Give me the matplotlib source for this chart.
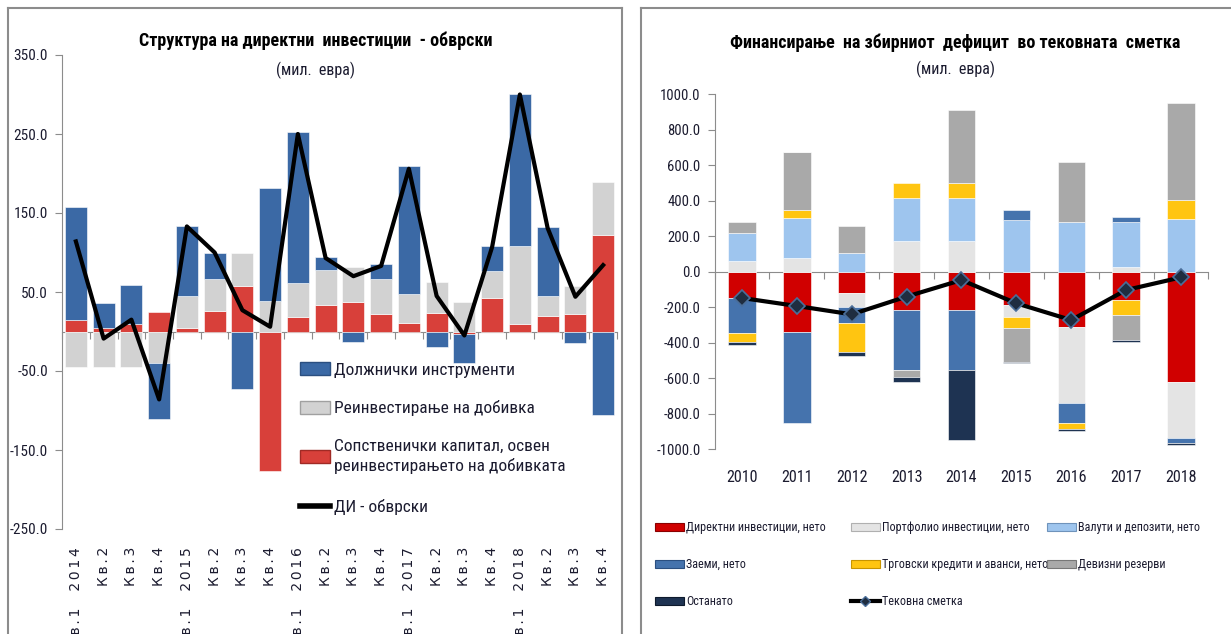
import matplotlib
matplotlib.use('Agg')
import matplotlib.pyplot as plt
import numpy as np
from matplotlib.lines import Line2D
from matplotlib.patches import Patch

plt.rcParams['font.family'] = ['Roboto Condensed', 'Roboto', 'DejaVu Sans']

# ---- left chart: FDI liabilities by quarter (mil. EUR)
quarters = ['Кв.1  2014', 'Кв.2', 'Кв.3', 'Кв.4',
            'Кв.1  2015', 'Кв.2', 'Кв.3', 'Кв.4',
            'Кв.1  2016', 'Кв.2', 'Кв.3', 'Кв.4',
            'Кв.1  2017', 'Кв.2', 'Кв.3', 'Кв.4',
            'Кв.1  2018', 'Кв.2', 'Кв.3', 'Кв.4']
equity = [15, 4, 10, 25, 4, 26, 57, -176, 18, 34, 37, 22, 11, 24, -3, 43, 10, 20, 22, 122]
reinvested = [-45, -45, -45, -40, 41, 40, 43, 39, 44, 44, 45, 44, 36, 39, 37, 34, 98, 25, 36, 67]
debt = [143, 32, 49, -71, 88, 34, -73, 143, 191, 16, -13, 19, 163, -19, -37, 31, 193, 87, -14, -106]
di_total = [114, -9, 15, -86, 133, 100, 27, 6, 250, 93, 70, 83, 206, 45, -5, 107, 300, 131, 44, 84]
left_yticks = [-250, -150, -50, 50, 150, 250, 350]

# ---- right chart: financing of the current account deficit (mil. EUR)
years = ['2010', '2011', '2012', '2013', '2014', '2015', '2016', '2017', '2018']
direct_inv = [-150, -338, -120, -215, -215, -187, -309, -159, -619]
portfolio = [60, 75, -80, 170, 170, -66, -432, 25, -318]
currency = [160, 225, 105, 243, 243, 291, 281, 255, 295]
loans = [-197, -515, -90, -338, -338, 55, -112, 30, -29]
trade = [-47, 47, -160, 85, 85, -66, -34, -85, 108]
reserves = [60, 328, 152, -38, 410, -187, 338, -140, 548]
other = [-18, 0, -25, -28, -394, -8, -9, -9, -10]
current_acc = [-148, -193, -240, -140, -47, -178, -272, -103, -32]
right_yticks = [-1000, -800, -600, -400, -200, 0, 200, 400, 600, 800, 1000]

GREY = '#8c8c8c'
TXT = '#1b1b2f'


def stack_bars(ax, series, colors, width):
    n = len(series[0])
    x = np.arange(n)
    pos = np.zeros(n)
    neg = np.zeros(n)
    for vals, c in zip(series, colors):
        vals = np.asarray(vals, dtype=float)
        bottom = np.where(vals >= 0, pos, neg)
        ax.bar(x, vals, width, bottom=bottom, color=c, edgecolor='#ffffff',
               linewidth=0.4, zorder=2)
        pos = pos + np.clip(vals, 0, None)
        neg = neg + np.clip(vals, None, 0)


def style_axes(ax, ncat, ylim, yticks, fs):
    ax.set_xlim(-0.5, ncat - 0.5)
    ax.set_ylim(ylim)
    ax.set_yticks(yticks)
    ax.set_yticklabels(['%.1f' % t for t in yticks], fontsize=fs, color=TXT)
    for s in ['top', 'right']:
        ax.spines[s].set_visible(False)
    ax.spines['left'].set_color(GREY)
    ax.spines['bottom'].set_color(GREY)
    ax.spines['bottom'].set_position(('data', 0))
    ax.spines['bottom'].set_zorder(1)
    ax.set_xticks(np.arange(ncat + 1) - 0.5)
    ax.tick_params(axis='x', direction='out', length=5, color=GREY, labelbottom=False)
    ax.tick_params(axis='y', direction='out', length=5, color=GREY, pad=5)
    ax.patch.set_alpha(0)


fig = plt.figure(figsize=(12.31, 6.34), dpi=100)

# panel frames
for x0, x1 in [(8 / 1231, 622 / 1231), (641 / 1231, 1.0)]:
    fig.add_artist(Line2D([x0, x0], [0, 1 - 8 / 634], color=GREY, lw=1.5))
    fig.add_artist(Line2D([x0, x1], [1 - 8 / 634, 1 - 8 / 634], color=GREY, lw=1.5))
fig.add_artist(Line2D([622 / 1231, 622 / 1231], [0, 1 - 8 / 634], color=GREY, lw=1.5))

# ---------------- left
ax1 = fig.add_axes([62 / 1231, 1 - 529 / 634, 555 / 1231, 474 / 634])
left_colors = ['#D8403A', '#D2D2D2', '#3B69A5']
stack_bars(ax1, [equity, reinvested, debt], left_colors, 0.8)
ax1.plot(np.arange(len(di_total)), di_total, color='black', lw=3, zorder=3)
style_axes(ax1, len(quarters), (-250, 350), left_yticks, 11)
trans = ax1.get_xaxis_transform()
for i, q in enumerate(quarters):
    ax1.text(i, -0.038, '\u2009'.join(q), transform=trans, rotation=90,
             ha='center', va='top', fontsize=10, color=TXT, family='DejaVu Sans')

fig.text(316 / 1231, 1 - 41 / 634, 'Структура на директни  инвестиции  - обврски',
         ha='center', va='center', fontsize=13, fontweight='bold', color='black')
fig.text(316 / 1231, 1 - 70 / 634, '(мил.  евра)', ha='center', va='center',
         fontsize=11.5, color=TXT)

h_left = [Patch(facecolor=left_colors[2], edgecolor='#2b4f80'),
          Patch(facecolor=left_colors[1], edgecolor='#a0a0a0'),
          Patch(facecolor=left_colors[0], edgecolor='#a02a25')]
lab_left = ['Должнички инструменти', 'Реинвестирање на добивка',
            'Сопственички капитал, освен\nреинвестирањето на добивката']
leg1 = fig.legend(h_left, lab_left, loc='upper left', bbox_to_anchor=(300 / 1231, 1 - 362 / 634),
                  frameon=False, fontsize=12.5, borderpad=0, borderaxespad=0,
                  handlelength=1.75, handleheight=0.8, handletextpad=0.2, labelspacing=1.3)
for t in leg1.get_texts():
    t.set_color(TXT)
    t.set_linespacing(1.35)
leg2 = fig.legend([Line2D([0], [0], color='black', lw=4)], ['ДИ - обврски'], loc='upper left',
                  bbox_to_anchor=(300 / 1231, 1 - 499 / 634), frameon=False, fontsize=12.5,
                  borderpad=0, borderaxespad=0, handlelength=1.75, handletextpad=0.2)
leg2.get_texts()[0].set_color(TXT)

# ---------------- right
ax2 = fig.add_axes([714.6 / 1231, 1 - 449.4 / 634, 493.8 / 1231, 355.4 / 634])
right_colors = ['#D00000', '#E4E4E4', '#9EC5EE', '#4573AD', '#FFC511', '#A9A9A9', '#1E3352']
stack_bars(ax2, [direct_inv, portfolio, currency, loans, trade, reserves, other],
           right_colors, 0.5)
ax2.plot(np.arange(len(current_acc)), current_acc, color='black', lw=3, zorder=3,
         marker='D', markersize=8, markerfacecolor='#1F2D40', markeredgecolor='#4A6E9A',
         markeredgewidth=1.2)
style_axes(ax2, len(years), (-1000, 1000), right_yticks, 10.5)
trans2 = ax2.get_xaxis_transform()
for i, yr in enumerate(years):
    ax2.text(i, -0.08, yr, transform=trans2, ha='center', va='center',
             fontsize=11.5, color=TXT)

fig.text(955 / 1231, 1 - 43 / 634, 'Финансирање  на збирниот  дефицит  во тековната  сметка',
         ha='center', va='center', fontsize=13, fontweight='bold', color='black')
fig.text(955 / 1231, 1 - 69 / 634, '(мил.  евра)', ha='center', va='center',
         fontsize=11.5, color=TXT)


def patch(c, e):
    return Patch(facecolor=c, edgecolor=e, linewidth=0.8)


cols = [
    ([patch(right_colors[0], '#8a0000'), patch(right_colors[3], '#2b4f80'),
      patch(right_colors[6], '#0e1a2c')],
     ['Директни инвестиции, нето', 'Заеми, нето', 'Останато'], 655),
    ([patch(right_colors[1], '#b0b0b0'), patch(right_colors[4], '#c89400'),
      Line2D([0], [0], color='black', lw=3, marker='D', markersize=5,
             markerfacecolor='#1F2D40', markeredgecolor='#4A6E9A')],
     ['Портфолио инвестиции, нето', 'Трговски кредити и аванси, нето', 'Тековна сметка'], 851),
    ([patch(right_colors[2], '#6f93bb'), patch(right_colors[5], '#777777')],
     ['Валути и депозити, нето', 'Девизни резерви'], 1047),
]
for handles, labels, x0 in cols:
    lg = fig.legend(handles, labels, loc='upper left', bbox_to_anchor=(x0 / 1231, 1 - 521 / 634),
                    frameon=False, fontsize=8.7, borderpad=0, borderaxespad=0,
                    handlelength=2.4, handleheight=0.6, handletextpad=0.2, labelspacing=2.0)
    for t in lg.get_texts():
        t.set_color(TXT)

fig.savefig('out.png', dpi=100)
